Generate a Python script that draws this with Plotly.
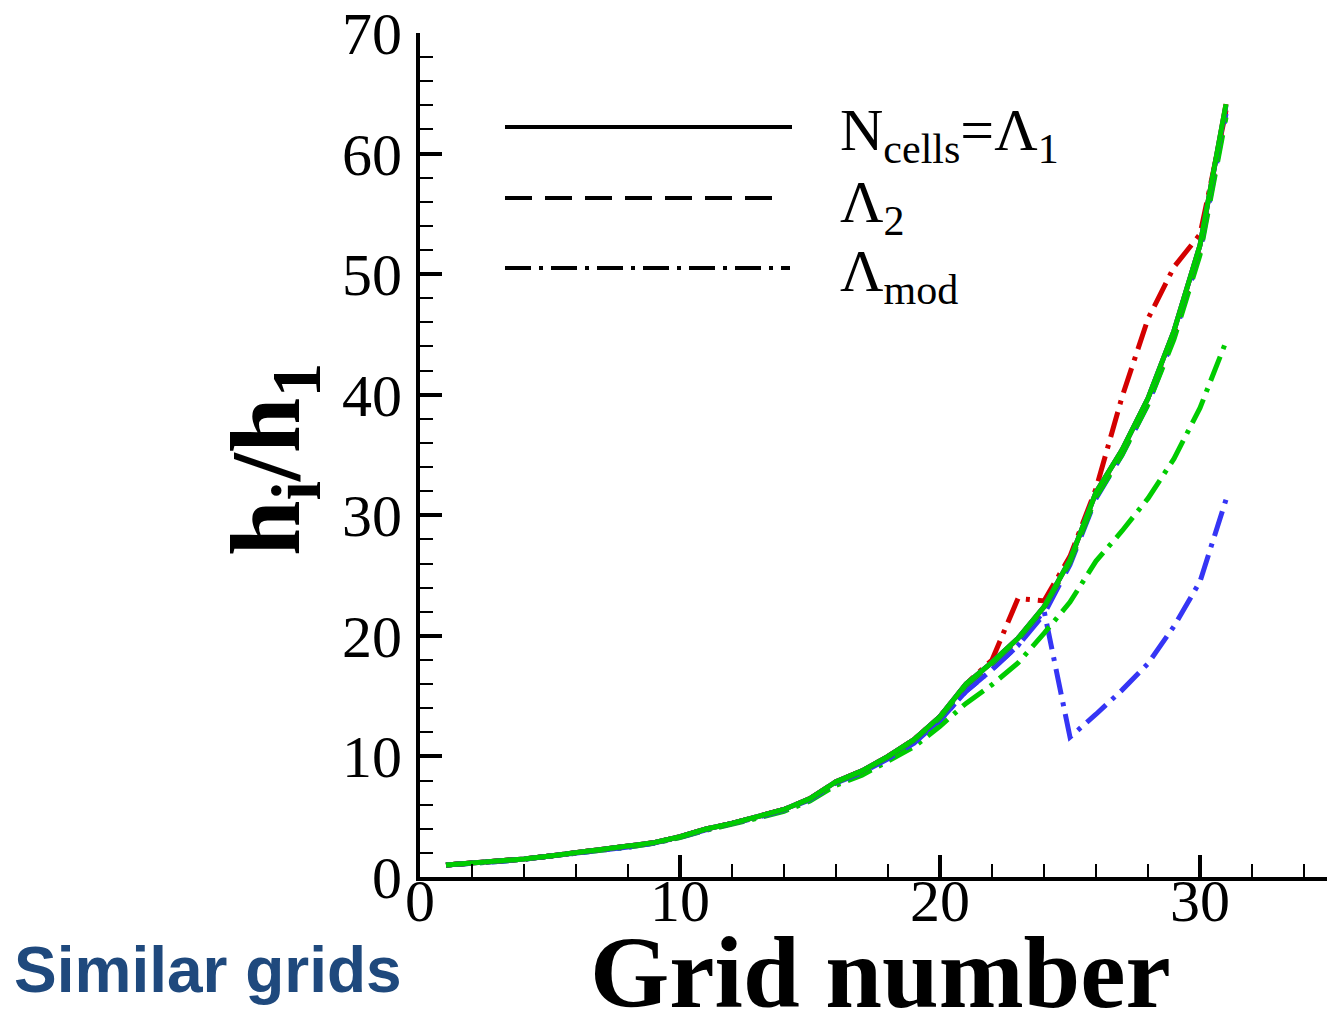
import plotly.graph_objects as go

# Grid index along the wall-normal direction
grid_number = list(range(1, 32))

# h_i / h_1 for N_cells = Lambda_1 (solid)
lam1_red = [1.0, 1.13, 1.3, 1.49, 1.74, 2.0, 2.24, 2.5, 2.85, 3.34, 3.98, 4.45, 5.0, 5.6, 6.5,
            7.9, 8.8, 10.0, 11.4, 13.3, 16.0, 17.8, 19.8, 22.4, 26.3, 31.9, 35.4, 39.7, 45.3, 52.4, 64.1]
lam1_blue = [1.0, 1.13, 1.3, 1.49, 1.74, 2.0, 2.24, 2.5, 2.85, 3.34, 3.98, 4.45, 5.0, 5.6, 6.5,
             7.9, 8.8, 10.0, 11.4, 13.3, 16.0, 17.8, 19.8, 22.4, 26.3, 31.9, 35.4, 39.7, 45.3, 52.4, 64.0]
lam1_green = [1.0, 1.13, 1.3, 1.49, 1.74, 2.0, 2.24, 2.5, 2.85, 3.34, 3.98, 4.45, 5.0, 5.6, 6.5,
              7.9, 8.8, 10.0, 11.4, 13.3, 16.0, 17.8, 19.8, 22.4, 26.3, 31.9, 35.4, 39.7, 45.3, 52.4, 64.1]

# h_i / h_1 for Lambda_2 (dashed)
lam2_red = [1.0, 1.13, 1.3, 1.49, 1.74, 2.0, 2.24, 2.5, 2.85, 3.34, 3.98, 4.45, 5.0, 5.6, 6.5,
            7.9, 8.8, 10.0, 11.4, 13.3, 15.9, 17.7, 19.7, 22.3, 26.2, 31.7, 35.2, 39.5, 45.0, 52.0, 63.6]
lam2_blue = [1.0, 1.12, 1.29, 1.48, 1.72, 1.98, 2.22, 2.48, 2.82, 3.3, 3.92, 4.4, 4.95, 5.55, 6.4,
             7.8, 8.65, 9.8, 11.1, 13.0, 15.4, 17.2, 19.2, 21.8, 25.9, 31.4, 35.0, 39.2, 44.8, 51.8, 63.3]
lam2_green = [1.0, 1.13, 1.3, 1.49, 1.74, 2.0, 2.24, 2.5, 2.85, 3.34, 3.97, 4.44, 4.98, 5.58, 6.45,
              7.85, 8.75, 9.95, 11.35, 13.2, 15.9, 17.7, 19.7, 22.3, 26.1, 31.5, 35.0, 39.2, 44.6, 51.6, 63.0]

# h_i / h_1 for Lambda_mod (dash-dot)
lmod_red = [1.0, 1.13, 1.3, 1.49, 1.74, 2.0, 2.24, 2.5, 2.85, 3.34, 3.98, 4.45, 5.0, 5.6, 6.5,
            7.9, 8.8, 10.0, 11.4, 13.3, 16.0, 18.0, 23.1, 22.9, 26.6, 32.2, 39.8, 46.3, 50.6, 53.3, 63.5]
lmod_blue = [1.0, 1.12, 1.29, 1.48, 1.72, 1.98, 2.22, 2.48, 2.82, 3.3, 3.92, 4.4, 4.95, 5.55, 6.4,
             7.75, 8.6, 9.75, 11.2, 13.0, 15.4, 17.2, 19.2, 22.1, 11.6, 13.5, 15.5, 17.7, 20.8, 24.5, 31.3]
lmod_green = [1.0, 1.12, 1.29, 1.48, 1.72, 1.98, 2.22, 2.47, 2.8, 3.27, 3.88, 4.35, 4.88, 5.45, 6.3,
              7.6, 8.45, 9.6, 10.8, 12.5, 14.4, 15.95, 17.75, 20.2, 22.8, 26.2, 28.7, 31.4, 34.7, 38.9, 44.4]

RED = "#D40000"
BLUE = "#3535F5"
GREEN = "#00CC00"

DASHED = "27px,13px"
DASHDOT = "26px,8px,4px,8px"

series = [
    (lmod_red, RED, DASHDOT, 5),
    (lmod_blue, BLUE, DASHDOT, 5),
    (lmod_green, GREEN, DASHDOT, 5),
    (lam2_red, RED, DASHED, 5),
    (lam2_blue, BLUE, DASHED, 5),
    (lam2_green, GREEN, DASHED, 5),
    (lam1_red, RED, "solid", 5),
    (lam1_blue, BLUE, "solid", 5),
    (lam1_green, GREEN, "solid", 5),
]

fig = go.Figure()
for values, color, dash, width in series:
    fig.add_trace(go.Scatter(
        x=grid_number, y=values, mode="lines",
        line=dict(color=color, dash=dash, width=width),
        showlegend=False, hoverinfo="skip",
    ))

# plot area in pixels
L, R, T, B = 420, 0, 33, 140
W, H = 1327, 1017
PW, PH = W - L - R, H - T - B


def px(xp):
    return (xp - L) / PW


def py(yp):
    return (H - B - yp) / PH


SERIF = "Liberation Serif, Times New Roman, serif"

# key drawn as black sample lines with text
key_rows = [
    ("solid", 792, 127, "N<sub>cells</sub>=Λ<sub>1</sub>"),
    (DASHED, 778, 198, "Λ<sub>2</sub>"),
    (DASHDOT, 790, 268, "Λ<sub>mod</sub>"),
]
shapes = []
annotations = []
for dash, x_end, y_row, label in key_rows:
    shapes.append(dict(
        type="line", xref="paper", yref="paper",
        x0=px(505), x1=px(x_end), y0=py(y_row), y1=py(y_row),
        line=dict(color="black", width=4, dash=dash),
    ))
    annotations.append(dict(
        xref="paper", yref="paper", x=px(838), y=py(y_row + 8),
        xanchor="left", yanchor="middle", showarrow=False,
        text=label, font=dict(family=SERIF, size=60, color="black"),
    ))

annotations.append(dict(
    xref="paper", yref="paper", x=px(880), y=py(972),
    xanchor="center", yanchor="middle", showarrow=False,
    text="<b>Grid number</b>", font=dict(family=SERIF, size=102, color="black"),
))
annotations.append(dict(
    xref="paper", yref="paper", x=px(272), y=py(460),
    xanchor="center", yanchor="middle", showarrow=False, textangle=-90,
    text="<b>h<sub>i</sub>/h<sub>1</sub></b>", font=dict(family=SERIF, size=100, color="black"),
))
annotations.append(dict(
    xref="paper", yref="paper", x=px(12), y=py(970),
    xanchor="left", yanchor="middle", showarrow=False,
    text="<b>Similar grids</b>",
    font=dict(family="Liberation Sans, Arial, sans-serif", size=64, color="#1F497D"),
))

axis_common = dict(
    showline=True, linewidth=4, linecolor="black",
    ticks="inside", ticklen=22, tickwidth=4, tickcolor="black",
    showgrid=False, zeroline=False,
    tickfont=dict(family=SERIF, size=60, color="black"),
    minor=dict(ticks="inside", ticklen=13, tickwidth=2, tickcolor="black", dtick=2, showgrid=False),
)

fig.update_layout(
    width=W, height=H,
    margin=dict(l=L, r=R, t=T, b=B, pad=0),
    paper_bgcolor="white", plot_bgcolor="white",
    xaxis=dict(range=[0, PW / 26.0], dtick=10, tick0=0, ticklabelstandoff=-32, **axis_common),
    yaxis=dict(range=[0, 70], dtick=10, tick0=0, ticklabelstandoff=2, **axis_common),
    shapes=shapes,
    annotations=annotations,
)

fig.write_html("out.html")
